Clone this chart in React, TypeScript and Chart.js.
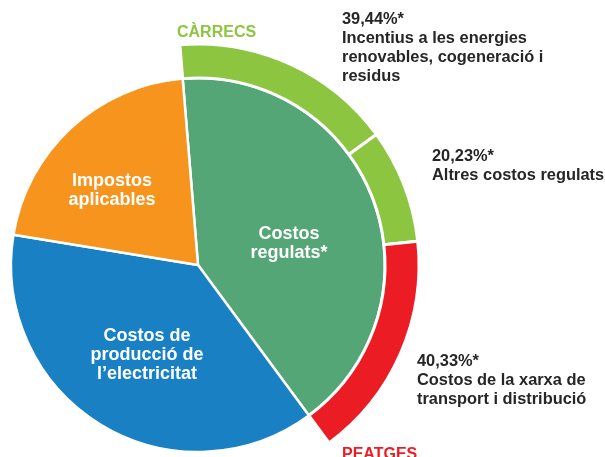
import React, { useEffect, useRef } from "react";
import { Chart, registerables } from "chart.js";

Chart.register(...registerables);

const mainLabels = ["Costos regulats*", "Costos de producció de l’electricitat", "Impostos aplicables"];
const mainValues = [41.2, 37.7, 21.1];
const mainColors = ["#55a677", "#1a80c4", "#f7941e"];

const regulatedLabels = [
  "Incentius a les energies renovables, cogeneració i residus",
  "Altres costos regulats",
  "Costos de la xarxa de transport i distribució",
];
const regulatedValues = [39.44, 20.23, 40.33];
const regulatedColors = ["#8cc540", "#8cc540", "#ec1c24"];

const startAngle = -4.7;

const FONT = "'Liberation Sans', Arial, Helvetica, sans-serif";
const DARK = "#262626";

type Txt = { lines: string[]; x: number; y: number; align: CanvasTextAlign; color: string; size: number; lh: number };

const fmt = (v: number) => v.toFixed(2).replace(".", ",") + "%*";

const annotations: Txt[] = [
  { lines: [fmt(regulatedValues[0]), "Incentius a les energies", "renovables, cogeneració i", "residus"], x: 342, y: 24, align: "left", color: DARK, size: 16.4, lh: 19 },
  { lines: [fmt(regulatedValues[1]), "Altres costos regulats"], x: 432, y: 161, align: "left", color: DARK, size: 16.4, lh: 19 },
  { lines: [fmt(regulatedValues[2]), "Costos de la xarxa de", "transport i distribució"], x: 417, y: 366, align: "left", color: DARK, size: 16.4, lh: 19 },
  { lines: ["CÀRRECS"], x: 177, y: 37, align: "left", color: "#8cc540", size: 16, lh: 19 },
  { lines: ["PEATGES"], x: 342, y: 459, align: "left", color: "#ec1c24", size: 16, lh: 19 },
  { lines: ["Costos", "regulats*"], x: 289, y: 239, align: "center", color: "#ffffff", size: 18, lh: 19 },
  { lines: ["Impostos", "aplicables"], x: 112, y: 186, align: "center", color: "#ffffff", size: 18, lh: 19 },
  { lines: ["Costos de", "producció de", "l’electricitat"], x: 147, y: 341, align: "center", color: "#ffffff", size: 18, lh: 19 },
];

const labelPlugin = {
  id: "labels",
  afterDraw(chart: any) {
    const ctx = chart.ctx as CanvasRenderingContext2D;
    ctx.save();
    ctx.textBaseline = "alphabetic";
    for (const t of annotations) {
      ctx.font = `bold ${t.size}px ${FONT}`;
      ctx.fillStyle = t.color;
      ctx.textAlign = t.align;
      t.lines.forEach((l, i) => ctx.fillText(l, t.x, t.y + i * t.lh));
    }
    ctx.restore();
  },
};

export default function App() {
  const ref = useRef<HTMLCanvasElement>(null);
  useEffect(() => {
    if (!ref.current) return;
    const total = mainValues.reduce((a, b) => a + b, 0);
    const ringCirc = (360 * mainValues[0]) / total;
    const chart = new Chart(ref.current, {
      type: "pie",
      data: {
        labels: mainLabels,
        datasets: [
          {
            label: "Costos regulats",
            data: regulatedValues,
            backgroundColor: regulatedColors,
            borderColor: "#ffffff",
            borderWidth: 3,
            weight: 34,
            rotation: startAngle,
            circumference: ringCirc,
          } as any,
          {
            label: "Factura",
            data: mainValues,
            backgroundColor: mainColors,
            borderColor: "#ffffff",
            borderWidth: 2.5,
            weight: 187,
            rotation: startAngle,
            circumference: 360,
          } as any,
        ],
      },
      options: {
        responsive: false,
        animation: false,
        events: [],
        radius: 221,
        layout: { padding: { left: 0, right: 209, top: 73, bottom: 0 } },
        plugins: {
          legend: { display: false },
          tooltip: { enabled: false },
        },
      } as any,
      plugins: [labelPlugin],
    });
    return () => chart.destroy();
  }, []);
  return (
    <div style={{ position: "absolute", left: 0, top: 0, width: 605, height: 457, background: "#fff" }}>
      <canvas ref={ref} width={605} height={457} style={{ display: "block" }} />
    </div>
  );
}
